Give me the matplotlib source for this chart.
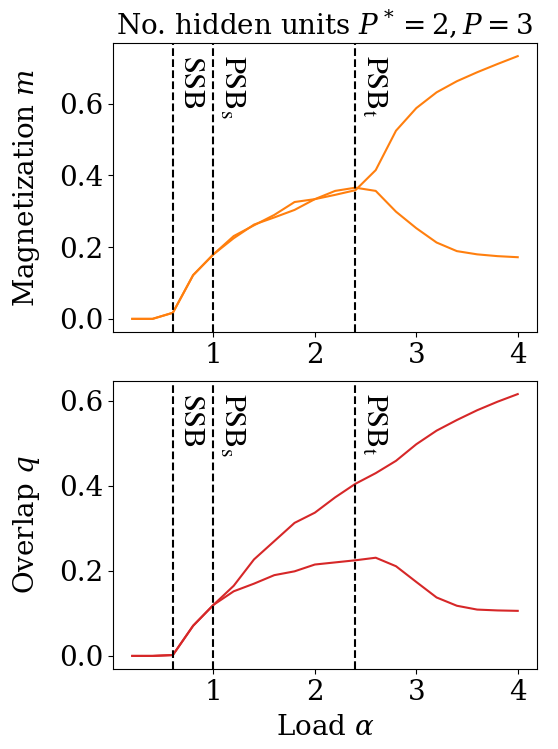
import numpy as np
import matplotlib
matplotlib.use("Agg")
import matplotlib.pyplot as plt

plt.rcParams['font.family'] = ['DejaVu Serif']
plt.rcParams['mathtext.fontset'] = 'dejavuserif'

alpha = [0.2, 0.4, 0.6, 0.8, 1.0, 1.2, 1.4, 1.6, 1.8, 2.0,
         2.2, 2.4, 2.6, 2.8, 3.0, 3.2, 3.4, 3.6, 3.8, 4.0]

m_a = [0.0, 0.0, 0.017, 0.122, 0.180, 0.231, 0.261, 0.290, 0.326, 0.334,
       0.346, 0.359, 0.415, 0.525, 0.588, 0.632, 0.663, 0.688, 0.711, 0.733]
m_b = [0.0, 0.0, 0.017, 0.122, 0.180, 0.225, 0.263, 0.283, 0.304, 0.334,
       0.357, 0.366, 0.357, 0.299, 0.253, 0.213, 0.189, 0.180, 0.175, 0.172]

q_a = [0.0, 0.0, 0.002, 0.071, 0.120, 0.165, 0.227, 0.270, 0.313, 0.337,
       0.373, 0.405, 0.430, 0.459, 0.498, 0.530, 0.555, 0.578, 0.598, 0.616]
q_b = [0.0, 0.0, 0.002, 0.071, 0.120, 0.152, 0.170, 0.190, 0.199, 0.215,
       0.220, 0.225, 0.231, 0.211, 0.174, 0.1375, 0.118, 0.109, 0.107, 0.106]

transitions = [0.6, 1.0, 2.4]
trans_labels = [r'$\mathrm{SSB}$', r'$\mathrm{PSB}_\mathrm{s}$', r'$\mathrm{PSB}_\mathrm{t}$']

W, H = 558, 749
fig = plt.figure(figsize=(W / 100, H / 100), dpi=100)
ax1 = fig.add_axes([113 / W, 1 - 332 / H, (537 - 113) / W, (332 - 43) / H])
ax2 = fig.add_axes([113 / W, 1 - 669 / H, (537 - 113) / W, (669 - 381) / H])

fs = 20
for ax, ya, yb, color in [(ax1, m_a, m_b, '#ff7f0e'), (ax2, q_a, q_b, '#d62728')]:
    ax.plot(alpha, ya, color=color, lw=1.5)
    ax.plot(alpha, yb, color=color, lw=1.5)
    for xv, lab in zip(transitions, trans_labels):
        ax.axvline(xv, color='black', ls='--', lw=1.5)
        ax.text(xv + 0.04, 0.96, lab, transform=ax.get_xaxis_transform(),
                rotation=270, va='top', ha='left', fontsize=22,
                math_fontfamily='stix')
    ax.tick_params(labelsize=fs)
    ax.set_xticks([1, 2, 3, 4])

ax1.set_yticks([0.0, 0.2, 0.4, 0.6])
ax2.set_yticks([0.0, 0.2, 0.4, 0.6])
ax1.set_ylabel(r'Magnetization $m$', fontsize=fs, labelpad=12)
ax2.set_ylabel(r'Overlap $q$', fontsize=fs, labelpad=12)
ax2.set_xlabel(r'Load $\alpha$', fontsize=fs, labelpad=6)
ax1.set_title(r'No. hidden units $P^* = 2, P = 3$', fontsize=fs, pad=6)

fig.savefig('out.png', dpi=100)
